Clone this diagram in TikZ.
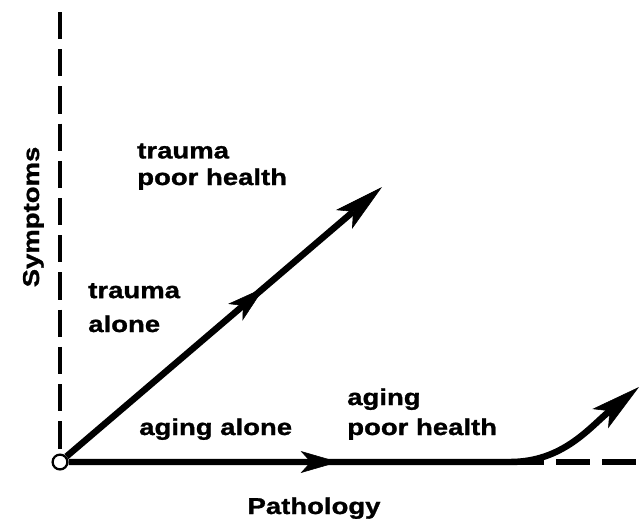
\documentclass[tikz,border=0pt]{standalone}
\usepackage{fontspec}
\setmainfont{Liberation Sans}[FakeStretch=1.2, BoldFeatures={FakeBold=1.2}]
\usetikzlibrary{positioning, arrows.meta, decorations.markings}

\begin{document}
\begin{tikzpicture}[x=0.025cm, y=-0.025cm, >=Stealth,
  every node/.style={font=\fontsize{16.3}{19.9}\selectfont\bfseries, inner sep=0pt},
  axisline/.style={line width=2.2pt, dash pattern=on 0.68cm off 0.25cm},
  tailline/.style={line width=3.8pt, dash pattern=on 0.85cm off 0.3cm},
  mainline/.style={line width=4.6pt},
  endtip/.style={-{Stealth[length=1.25cm, width=0.62cm, inset=0.3cm, line width=0.4pt]}},
  midtip/.style={postaction={decorate}, decoration={markings, mark=at position #1 with {\arrow{Stealth[length=0.95cm, width=0.55cm, inset=0.25cm, line width=0.4pt]}}}}]

\useasboundingbox (0,0) rectangle (642,521);

% Origin and axes
\node (O) [draw, circle, line width=1.6pt, fill=white, minimum size=0.37cm] at (60,462) {};
\coordinate (ytop) at (60,12);
\coordinate (bend) at (510,462);
\coordinate (xend) at (640,462);

% Arrow ends
\coordinate (ttip) at (382,187);
\coordinate (atip) at (639,387);

% Axes
\draw[axisline] (ytop) -- (O);
\draw[tailline] (bend) -- (xend);

% Pathways
\draw[mainline, endtip, midtip=6.5cm] (O) -- (ttip);
\draw[mainline, endtip, midtip=6.75cm] (O) -- (bend) .. controls (563,462) and (590,427) .. (atip);

% Labels (base = last line)
\node (traumapoor) [anchor=base west, align=left] at (137,185) {trauma\\[-1pt]poor health};
\node (traumaalone) [anchor=base west, align=left] at (88,332) {trauma\\[4.2pt]alone};
\node (agingalone) [anchor=base west] at (139,435) {aging alone};
\node (agingpoor) [anchor=base west, align=left] at (347,435) {aging\\[1.4pt]poor health};

% Axis titles
\node (pathology) [anchor=base] at (314,514) {Pathology};
\node (symptoms) [anchor=base, rotate=90] at (39,217) {Symptoms};

\end{tikzpicture}
\end{document}
